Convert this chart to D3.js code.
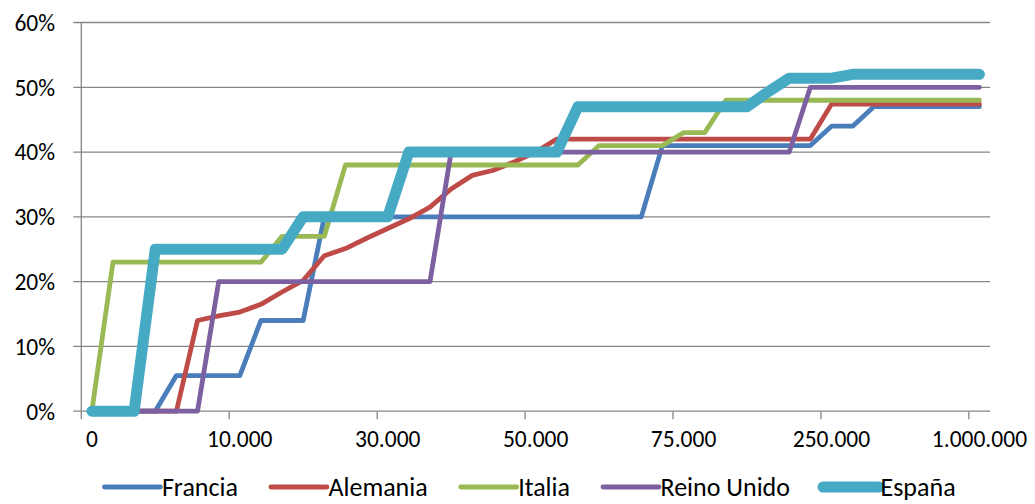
<!DOCTYPE html>
<html>
<head>
<meta charset="utf-8">
<script src="https://cdn.jsdelivr.net/npm/d3@7"></script>
<style>
  html, body { margin: 0; padding: 0; background: #fff; }
  svg { display: block; }
  text { font-family: Carlito, Lato, "Open Sans", sans-serif; fill: #000; }
</style>
</head>
<body>
<svg id="chart" width="1035" height="504"></svg>
<script>
// ---- data ----
const categories = d3.range(43); // 43 category slots on the x axis
const tickLabels = ["0", "10.000", "30.000", "50.000", "75.000", "250.000", "1.000.000"];
const tickEvery = 7;
const yTicks = [0, 0.1, 0.2, 0.3, 0.4, 0.5, 0.6];
const seriesNames = ["Francia", "Alemania", "Italia", "Reino Unido", "España"];

const francia = [0, 0, 0, 0, 5.5, 5.5, 5.5, 5.5, 14, 14, 14, 30, 30, 30, 30, 30, 30, 30, 30, 30, 30, 30, 30, 30, 30, 30, 30, 41, 41, 41, 41, 41, 41, 41, 41, 44, 44, 47, 47, 47, 47, 47, 47];
const alemania = [0, 0, 0, 0, 0, 14, 14.7, 15.3, 16.5, 18.4, 20.2, 24, 25.1, 26.7, 28.2, 29.7, 31.5, 34.3, 36.4, 37.2, 38.5, 40, 42, 42, 42, 42, 42, 42, 42, 42, 42, 42, 42, 42, 42, 47.4, 47.4, 47.4, 47.4, 47.4, 47.4, 47.4, 47.4];
const italia = [0, 23, 23, 23, 23, 23, 23, 23, 23, 27, 27, 27, 38, 38, 38, 38, 38, 38, 38, 38, 38, 38, 38, 38, 41, 41, 41, 41, 43, 43, 48, 48, 48, 48, 48, 48, 48, 48, 48, 48, 48, 48, 48];
const reinoUnido = [0, 0, 0, 0, 0, 0, 20, 20, 20, 20, 20, 20, 20, 20, 20, 20, 20, 40, 40, 40, 40, 40, 40, 40, 40, 40, 40, 40, 40, 40, 40, 40, 40, 40, 50, 50, 50, 50, 50, 50, 50, 50, 50];
const espana = [0, 0, 0, 25, 25, 25, 25, 25, 25, 25, 30, 30, 30, 30, 30, 40, 40, 40, 40, 40, 40, 40, 40, 47, 47, 47, 47, 47, 47, 47, 47, 47, 49.3, 51.4, 51.4, 51.4, 52, 52, 52, 52, 52, 52, 52];

const seriesValues = [francia, alemania, italia, reinoUnido, espana];
const colors = ["#4A7EBB", "#BE4B48", "#98B954", "#7D60A0", "#46AAC5"];
const widths = [4.8, 4.8, 4.8, 4.8, 11];

// ---- layout ----
const svg = d3.select("#chart");
const plotL = 81.3, plotR = 990, plotT = 22.5, plotB = 411.2;
const axisFont = 23.5, legendFont = 26;
const gridColor = "#868686";

const x = d3.scaleBand().domain(categories).range([plotL, plotR]).padding(0);
const y = d3.scaleLinear().domain([0, 0.6]).range([plotB, plotT]);
const cx = i => x(i) + x.bandwidth() / 2;

// gridlines
svg.append("g").selectAll("line").data(yTicks).join("line")
  .attr("x1", plotL - 8).attr("x2", plotR)
  .attr("y1", d => y(d)).attr("y2", d => y(d))
  .attr("stroke", gridColor).attr("stroke-width", 1.3);

// y axis line
svg.append("line")
  .attr("x1", plotL).attr("x2", plotL).attr("y1", plotT).attr("y2", plotB)
  .attr("stroke", gridColor).attr("stroke-width", 1.3);

// y labels
svg.append("g").selectAll("text").data(yTicks).join("text")
  .attr("x", 55).attr("y", d => y(d) + 8.4)
  .attr("text-anchor", "end").attr("font-size", axisFont)
  .text(d => d3.format(".0%")(d));

// x ticks (between categories, every 7)
const tickIdx = tickLabels.map((_, k) => k * tickEvery);
svg.append("g").selectAll("line").data(tickIdx).join("line")
  .attr("x1", d => x(d)).attr("x2", d => x(d))
  .attr("y1", plotB).attr("y2", plotB + 8)
  .attr("stroke", gridColor).attr("stroke-width", 1.3);

// x labels
svg.append("g").selectAll("text").data(tickLabels).join("text")
  .attr("x", (d, k) => cx(k * tickEvery)).attr("y", 447)
  .attr("text-anchor", "middle").attr("font-size", axisFont)
  .text(d => d);

// series lines
const line = d3.line().x((d, i) => cx(categories[i])).y(d => y(d / 100));
svg.append("g").selectAll("path").data(seriesValues).join("path")
  .attr("d", d => line(d))
  .attr("fill", "none")
  .attr("stroke", (d, i) => colors[i])
  .attr("stroke-width", (d, i) => widths[i])
  .attr("stroke-linejoin", "round")
  .attr("stroke-linecap", "round");

// legend
const legend = svg.append("g");
const symLen = 56, symGap = 1.5, itemGap = 33, legendY = 487;
const items = seriesNames.map((name, i) => {
  const g = legend.append("g");
  g.append("line").attr("x1", 0).attr("x2", symLen).attr("y1", 0).attr("y2", 0)
    .attr("stroke", colors[i]).attr("stroke-width", widths[i]).attr("stroke-linecap", "round");
  const t = g.append("text").attr("x", symLen + symGap).attr("y", 8.5)
    .attr("font-size", legendFont).text(name);
  const w = symLen + symGap + t.node().getComputedTextLength();
  return { g, w };
});
const total = d3.sum(items, d => d.w) + itemGap * (items.length - 1);
let pos = 530 - total / 2;
items.forEach(it => {
  it.g.attr("transform", `translate(${pos},${legendY})`);
  pos += it.w + itemGap;
});
</script>
</body>
</html>
